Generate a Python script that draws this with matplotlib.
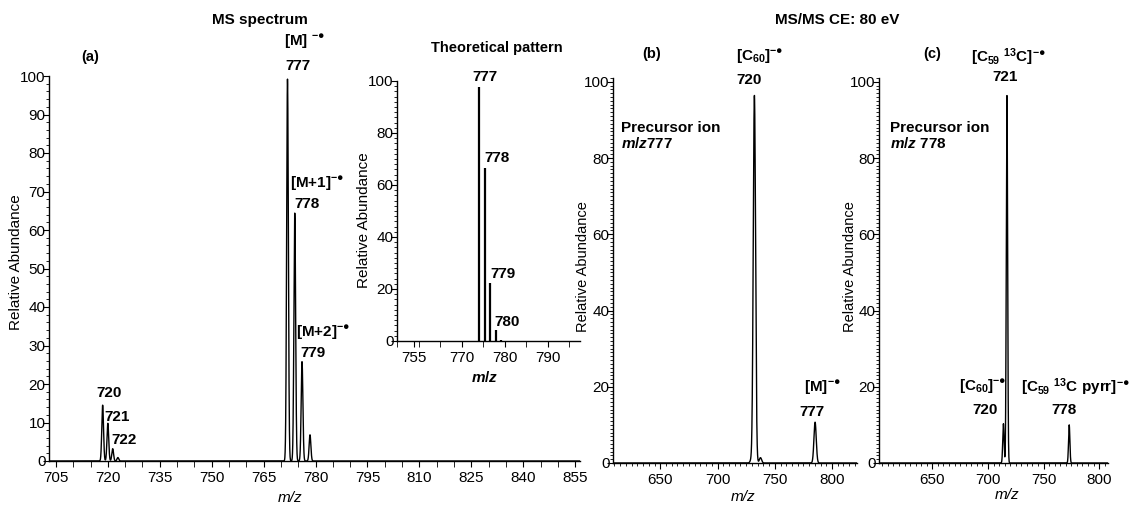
import numpy as np
import matplotlib
matplotlib.use('Agg')
import matplotlib.pyplot as plt
from matplotlib.ticker import MultipleLocator

plt.rcParams['font.family'] = ['Liberation Sans', 'DejaVu Sans']
plt.rcParams['mathtext.fontset'] = 'custom'
plt.rcParams['mathtext.rm'] = 'Liberation Sans:bold'
plt.rcParams['mathtext.it'] = 'Liberation Sans:italic:bold'
plt.rcParams['mathtext.bf'] = 'Liberation Sans:bold'

# (a) MS spectrum, peaks (m/z on the drawn axis, rel. abundance)
ms_mz = [718.5, 720.0, 721.4, 722.9, 771.9, 774.0, 776.1, 778.4]
ms_int = [14.5, 9.8, 3.2, 0.9, 99.2, 64.4, 25.8, 6.8]

# inset: theoretical isotope pattern
th_mz = [774.0, 775.4, 776.6, 777.9, 779.2]
th_int = [97.6, 66.4, 22.2, 4.2, 0.5]
th_ticks = [759, 770, 780, 790]
th_ticklabels = ['755', '770', '780', '790']

# (b) MS/MS of m/z 777
b_mz = [729.5, 732.2, 737.5, 785.2]
b_int = [0.8, 96.4, 1.4, 10.7]

# (c) MS/MS of m/z 778
c_mz = [713.9, 717.1, 773.1]
c_int = [10.3, 96.4, 10.0]

W, H = 1132, 512
fig = plt.figure(figsize=(W / 100, H / 100), dpi=100)

RAD = '$^{-●}$'


def profile(ax, centers, heights, lo, hi, w):
    x = np.linspace(lo, hi, 8000)
    y = np.zeros_like(x)
    for c, h in zip(centers, heights):
        y += h * np.exp(-0.5 * ((x - c) / w) ** 2)
    ax.plot(x, y, color='black', lw=1.0)


def style(ax):
    for s in ['top', 'right']:
        ax.spines[s].set_visible(False)
    for s in ['left', 'bottom']:
        ax.spines[s].set_linewidth(1.0)
    ax.tick_params(which='major', direction='out', length=4, width=0.8,
                   labelsize=11, colors='black')
    ax.tick_params(which='minor', direction='out', length=2, width=0.6)
    ax.tick_params(axis='x', which='major', pad=3)
    ax.tick_params(axis='y', which='major', pad=-1.5)


def ftext(x, y, s, **kw):
    kw.setdefault('ha', 'center')
    kw.setdefault('va', 'center')
    kw.setdefault('fontsize', 11)
    kw.setdefault('fontweight', 'bold')
    fig.text(x / W, 1 - y / H, s, **kw)


# ---- (a) ----
ax = fig.add_axes([49 / W, 51 / H, 531 / W, 385 / H])
profile(ax, ms_mz, ms_int, 703, 856.4, 0.25)
ax.set_xlim(703, 856.4)
ax.set_ylim(0, 100)
ax.xaxis.set_major_locator(MultipleLocator(15))
ax.xaxis.set_minor_locator(MultipleLocator(5))
ax.yaxis.set_major_locator(MultipleLocator(10))
ax.yaxis.set_minor_locator(MultipleLocator(2))
style(ax)
ax.tick_params(axis='x', which='minor', length=4)

# ---- inset ----
axi = fig.add_axes([397 / W, 171 / H, 183 / W, 260 / H])
axi.patch.set_alpha(0)
axi.vlines(th_mz, 0, th_int, color='black', lw=1.6)
axi.set_xlim(755, 797.5)
axi.set_ylim(0, 100)
axi.set_xticks(th_ticks, labels=th_ticklabels)
axi.xaxis.set_minor_locator(MultipleLocator(5))
axi.yaxis.set_major_locator(MultipleLocator(20))
axi.yaxis.set_minor_locator(MultipleLocator(2))
style(axi)
axi.tick_params(axis='x', which='minor', length=4)

# ---- (b) ----
axb = fig.add_axes([613 / W, 49 / H, 244 / W, 385 / H])
profile(axb, b_mz, b_int, 608.7, 821.8, 1.0)
axb.set_xlim(608.7, 821.8)
axb.set_ylim(0, 101)
axb.xaxis.set_major_locator(MultipleLocator(50))
axb.xaxis.set_minor_locator(MultipleLocator(5))
axb.yaxis.set_major_locator(MultipleLocator(20))
axb.yaxis.set_minor_locator(MultipleLocator(1))
style(axb)

# ---- (c) ----
axc = fig.add_axes([879 / W, 49 / H, 229 / W, 385 / H])
profile(axc, c_mz, c_int, 602, 808, 0.6)
axc.set_xlim(602, 808)
axc.set_ylim(0, 101)
axc.xaxis.set_major_locator(MultipleLocator(50))
axc.xaxis.set_minor_locator(MultipleLocator(5))
axc.yaxis.set_major_locator(MultipleLocator(20))
axc.yaxis.set_minor_locator(MultipleLocator(1))
style(axc)

# titles
ftext(260, 20, 'MS spectrum')
ftext(837, 20, 'MS/MS CE: 80 eV')

# (a) labels
ftext(90, 57, '(a)', fontsize=10.5)
ftext(304, 42, '[M] ' + RAD)
ftext(298, 66, '777')
ftext(317, 184, '[M+1]' + RAD)
ftext(307, 204, '778')
ftext(323, 333, '[M+2]' + RAD)
ftext(313, 353, '779')
ftext(109, 393, '720')
ftext(117, 417, '721')
ftext(124, 440, '722')
ftext(290, 498, 'm/z', fontweight='normal', style='italic')
ftext(16, 262, 'Relative Abundance', fontweight='normal', rotation=90)

# inset labels
ftext(497, 48, 'Theoretical pattern', fontsize=10.5)
ftext(485, 77, '777')
ftext(497, 158, '778')
ftext(503, 274, '779')
ftext(507, 322, '780')
ftext(485, 378, '$m/z$')
ftext(364, 220, 'Relative Abundance', fontweight='normal', rotation=90)

# (b) labels
ftext(652, 54, '(b)', fontsize=10.5)
ftext(760, 57, '[C$_{60}$]' + RAD)
ftext(749, 80, '720')
ftext(621, 128, 'Precursor ion', ha='left')
ftext(621, 144, '$m/z$777', ha='left')
ftext(822, 388, '[M]' + RAD)
ftext(812, 412, '777')
ftext(743, 497, 'm/z', fontweight='normal', style='italic')
ftext(583, 267, 'Relative Abundance', fontweight='normal', rotation=90,
      fontsize=10.5)

# (c) labels
ftext(932, 54, '(c)', fontsize=10.5)
ftext(1008, 57, '[C$_{59}$ ${}^{13}$C]' + RAD)
ftext(1005, 77, '721')
ftext(890, 128, 'Precursor ion', ha='left')
ftext(890, 144, '$m/z$ 778', ha='left')
ftext(983, 387, '[C$_{60}$]' + RAD)
ftext(985, 410, '720')
ftext(1075, 387, '[C$_{59}$ ${}^{13}$C pyrr]' + RAD)
ftext(1064, 410, '778')
ftext(1007, 495, 'm/z', fontweight='normal', style='italic')
ftext(850, 267, 'Relative Abundance', fontweight='normal', rotation=90,
      fontsize=10.5)

fig.savefig('out.png', dpi=100)
